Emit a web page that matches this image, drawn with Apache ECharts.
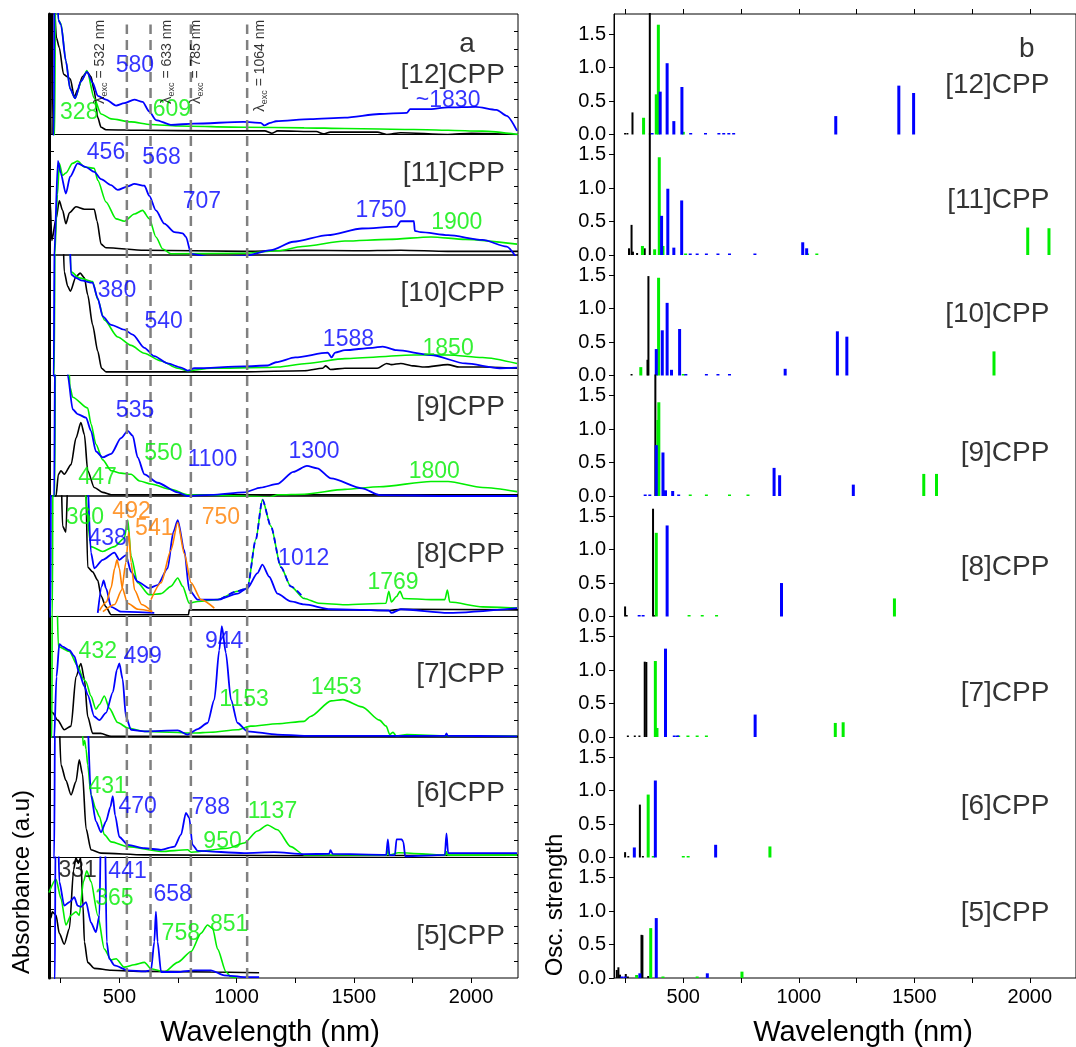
<!DOCTYPE html>
<html lang="en">
<head>
    <meta charset="UTF-8">
    <title>[n]CPP absorbance and oscillator strengths</title>
    <script src="https://cdn.jsdelivr.net/npm/echarts@6/dist/echarts.min.js"></script>
    <style>html, body { margin: 0; padding: 0; background: #fff; }</style>
</head>
<body>
    <div id="main" style="width: 1076px; height: 1047px;"></div>
    <script>
        // panel names, top to bottom
        const panelNames = ['[12]CPP', '[11]CPP', '[10]CPP', '[9]CPP', '[8]CPP', '[7]CPP', '[6]CPP', '[5]CPP']
        // excitation lines (drawn position) and their printed wavelength
        const excLines = [532, 633, 805, 1045]
        const excNames = ['532', '633', '785', '1064']
        const tickNm = [250, 500, 750, 1000, 1250, 1500, 1750, 2000]
        const labelNm = [500, 1000, 1500, 2000]
        const oscTicks = [0, 0.5, 1, 1.5]
        const oscMinor = [0.25, 0.75, 1.25, 1.75]

        // ---- absorbance spectra (a.u., 0 = panel bottom, 1 = panel top) ----
        const abs12Black = [[200,1.3],[211,1.3],[213,0.0],[217,1.3],[232,0.8],[244,0.72],[262,0.5],[277,0.48],[291,0.46],[308,0.31],[322,0.37],[343,0.48],[362,0.52],[379,0.48],[393,0.36],[408,0.14],[422,0.06],[443,0.04],[600,0.035],[900,0.03],[1120,0.03],[1150,0.01],[1175,0.03],[1340,0.025],[1370,0.005],[1400,0.02],[1600,0.02],[1640,0.0],[1700,0.015],[1900,0.0],[2000,0.01],[2200,0.0]]
        const abs12Green = [[200,-0.02],[224,-0.02],[228,1.3],[234,1.3],[240,0.95],[251,0.92],[272,0.61],[290,0.38],[311,0.30],[340,0.45],[362,0.53],[393,0.30],[422,0.17],[465,0.13],[550,0.105],[634,0.083],[749,0.07],[1032,0.06],[1288,0.055],[1462,0.05],[1755,0.042],[2049,0.028],[2200,0.0]]
        const abs12Blue = [[200,-0.02],[220,-0.02],[224,1.3],[234,1.3],[240,0.95],[251,0.91],[272,0.61],[290,0.38],[311,0.30],[336,0.44],[362,0.52],[386,0.43],[408,0.32],[443,0.29],[486,0.24],[521,0.26],[564,0.29],[599,0.27],[628,0.19],[656,0.12],[720,0.08],[818,0.09],[1030,0.105],[1103,0.097],[1118,0.075],[1144,0.097],[1168,0.11],[1315,0.127],[1462,0.14],[1609,0.17],[1726,0.18],[1740,0.21],[1814,0.21],[1902,0.225],[2020,0.23],[2108,0.205],[2152,0.155],[2196,0.03]]

        const abs11Black = [[200,0.0],[205,0.45],[212,0.12],[230,0.3],[244,0.45],[258,0.37],[272,0.26],[287,0.35],[315,0.40],[351,0.38],[393,0.38],[405,0.28],[422,0.09],[443,0.06],[606,0.04],[1032,0.03],[1288,0.04],[1500,0.035],[1700,0.04],[1900,0.03],[2200,0.03]]
        const abs11Green = [[200,-0.02],[224,-0.02],[236,0.5],[244,0.76],[258,0.66],[272,0.68],[300,0.76],[322,0.78],[351,0.73],[393,0.72],[408,0.62],[443,0.44],[486,0.30],[521,0.28],[564,0.34],[599,0.37],[628,0.30],[656,0.15],[685,0.05],[720,0.01],[1032,0.015],[1176,0.035],[1280,0.07],[1462,0.116],[1650,0.13],[1829,0.15],[1976,0.13],[2196,0.09]]
        const abs11Blue = [[200,-0.02],[222,-0.02],[238,0.78],[250,0.68],[272,0.51],[290,0.65],[322,0.76],[358,0.73],[393,0.69],[422,0.63],[465,0.58],[493,0.54],[536,0.57],[564,0.59],[607,0.575],[628,0.49],[656,0.37],[692,0.26],[735,0.19],[770,0.18],[784,0.15],[806,0.01],[892,-0.02],[1032,-0.01],[1146,0.04],[1242,0.11],[1389,0.165],[1535,0.22],[1682,0.235],[1700,0.28],[1756,0.28],[1760,0.2],[1785,0.19],[1902,0.165],[2049,0.125],[2152,0.07],[2196,-0.03]]

        const abs10Black = [[200,1.3],[258,1.3],[265,0.86],[280,0.74],[291,0.70],[315,0.82],[333,0.85],[351,0.81],[365,0.67],[386,0.42],[408,0.20],[424,0.06],[443,0.03],[1032,0.03],[1288,0.04],[1367,0.06],[1380,0.08],[1400,0.05],[1462,0.06],[1600,0.06],[1640,0.1],[1660,0.09],[1700,0.1],[1756,0.08],[1800,0.07],[1900,0.09],[1950,0.07],[2049,0.07],[2196,0.06]]
        const abs10Green = [[200,-0.02],[222,-0.02],[226,1.3],[285,1.3],[294,0.86],[329,0.81],[386,0.78],[408,0.63],[436,0.46],[493,0.32],[550,0.25],[606,0.185],[678,0.12],[749,0.06],[791,0.04],[892,0.06],[1132,0.066],[1176,0.07],[1300,0.1],[1462,0.14],[1756,0.17],[1902,0.17],[2049,0.15],[2196,0.10]]
        const abs10Blue = [[200,-0.02],[220,-0.02],[224,1.3],[285,1.3],[294,0.84],[315,0.81],[336,0.79],[386,0.77],[408,0.64],[429,0.49],[465,0.42],[521,0.38],[557,0.34],[607,0.23],[649,0.16],[706,0.10],[763,0.066],[791,0.04],[820,0.06],[1032,0.075],[1132,0.083],[1168,0.11],[1250,0.15],[1389,0.19],[1405,0.15],[1420,0.19],[1462,0.21],[1579,0.23],[1623,0.24],[1682,0.21],[1829,0.17],[1976,0.10],[2122,0.06],[2196,0.065]]

        const abs9Black = [[200,0.0],[230,0.0],[240,0.18],[251,0.21],[265,0.18],[294,0.26],[315,0.48],[336,0.61],[351,0.51],[365,0.21],[393,0.07],[429,0.03],[465,0.01],[1000,0.01],[1600,0.01],[2200,0.01]]
        const abs9Green = [[200,-0.02],[224,-0.02],[228,1.3],[280,1.3],[290,0.9],[301,0.82],[365,0.73],[379,0.60],[400,0.43],[429,0.30],[465,0.21],[507,0.19],[550,0.18],[586,0.125],[635,0.10],[720,0.055],[791,0.01],[1032,0.0],[1140,-0.01],[1176,0.01],[1288,0.015],[1462,0.055],[1609,0.077],[1829,0.12],[1902,0.12],[2049,0.07],[2196,0.036]]
        const abs9Blue = [[200,-0.02],[222,-0.02],[226,1.3],[275,1.3],[280,1.0],[301,0.72],[322,0.68],[358,0.65],[379,0.54],[400,0.37],[429,0.32],[465,0.35],[507,0.48],[536,0.54],[557,0.50],[578,0.32],[607,0.18],[663,0.11],[749,0.03],[791,0.0],[892,0.01],[1032,0.03],[1103,0.07],[1174,0.10],[1242,0.2],[1300,0.25],[1344,0.23],[1403,0.146],[1535,0.064],[1609,0.008],[1902,0.0],[2196,0.0]]

        const abs8Black = [[200,1.3],[250,1.3],[258,0.75],[272,0.70],[283,1.3],[355,1.3],[365,0.41],[386,0.37],[408,0.30],[422,0.17],[443,0.08],[465,0.015],[607,0.015],[795,0.015],[798,0.055],[1288,0.055],[1500,0.055],[1650,0.05],[1700,0.06],[2200,0.055]]
        const abs8Green = [[200,-0.02],[214,-0.02],[217,1.3],[340,1.3],[379,0.58],[429,0.54],[479,0.58],[521,0.65],[536,0.80],[550,0.50],[578,0.28],[627,0.18],[678,0.19],[720,0.25],[749,0.32],[770,0.25],[798,0.11],[834,0.125],[919,0.14],[1004,0.21],[1046,0.235],[1082,0.64],[1110,0.97],[1146,0.75],[1189,0.41],[1231,0.25],[1288,0.15],[1350,0.11],[1462,0.097],[1637,0.11],[1649,0.21],[1660,0.12],[1682,0.166],[1697,0.21],[1711,0.15],[1829,0.14],[1888,0.14],[1899,0.22],[1909,0.12],[2049,0.08],[2196,0.07]]
        const abs8Blue = [[200,-0.02],[206,-0.02],[209,1.3],[360,1.3],[379,0.53],[393,0.40],[429,0.47],[479,0.53],[500,0.47],[528,0.51],[550,0.37],[578,0.29],[627,0.235],[663,0.26],[706,0.40],[730,0.7],[749,0.80],[777,0.55],[798,0.22],[834,0.14],[919,0.14],[1004,0.19],[1046,0.235],[1089,0.36],[1110,0.43],[1139,0.33],[1174,0.19],[1231,0.125],[1288,0.10],[1400,0.06],[1650,0.05],[1660,0.03],[1700,0.06],[1902,0.03],[2196,0.07]]
        const abs8BlueLow = [[408,0.03],[425,0.25],[433,0.30],[443,0.235],[465,0.08],[507,0.04],[649,0.03]]
        const abs8BlueDash = [[930,0.14],[1004,0.21],[1046,0.235],[1082,0.64],[1110,0.97],[1146,0.75],[1189,0.41],[1231,0.25],[1288,0.15]]
        const abs8Orange1 = [[415,0.05],[445,0.12],[465,0.24],[480,0.40],[490,0.47],[500,0.40],[512,0.24],[535,0.11],[580,0.06],[640,0.04]]
        const abs8Orange2 = [[430,0.04],[480,0.1],[510,0.22],[528,0.45],[540,0.70],[550,0.45],[565,0.22],[595,0.1],[640,0.04]]
        const abs8Orange3 = [[635,0.14],[678,0.28],[720,0.55],[749,0.78],[777,0.52],[806,0.28],[848,0.14],[905,0.07]]

        const abs7Black = [[200,0.25],[216,0.2],[237,0.14],[265,0.06],[294,0.09],[315,0.50],[336,0.61],[351,0.48],[365,0.17],[386,0.03],[420,0.03],[465,0.005],[1200,0.005],[2200,0.005]]
        const abs7Green = [[200,-0.02],[212,-0.02],[214,1.3],[232,1.3],[240,0.75],[287,0.71],[322,0.59],[347,0.48],[357,0.46],[379,0.34],[400,0.23],[415,0.27],[436,0.34],[457,0.24],[493,0.12],[536,0.075],[607,0.047],[820,0.033],[890,0.04],[1004,0.06],[1060,0.09],[1174,0.11],[1288,0.13],[1315,0.17],[1403,0.30],[1453,0.31],[1535,0.25],[1609,0.14],[1638,0.09],[1653,0.02],[1667,0.04],[1680,0.01],[1726,0.02],[1902,0.01],[2196,0.005]]
        const abs7Blue = [[200,-0.02],[222,-0.02],[232,0.5],[244,0.77],[258,0.75],[287,0.72],[308,0.67],[329,0.53],[351,0.42],[365,0.35],[393,0.17],[415,0.14],[443,0.20],[472,0.37],[490,0.56],[500,0.61],[514,0.48],[528,0.17],[550,0.06],[607,0.047],[749,0.055],[791,0.02],[834,0.066],[876,0.116],[905,0.31],[926,0.72],[937,0.92],[954,0.70],[976,0.31],[1004,0.116],[1046,0.047],[1174,0.02],[1288,0.01],[1890,0.01],[1895,0.03],[1900,0.01],[2196,0.005]]

        const abs6Black = [[200,1.3],[240,1.3],[251,0.77],[272,0.64],[294,0.52],[315,0.63],[329,0.81],[343,0.69],[358,0.24],[379,0.064],[422,0.036],[607,0.022],[1288,0.015],[2200,0.02]]
        const abs6Green = [[200,1.3],[340,1.3],[345,0.93],[352,0.97],[358,0.9],[365,0.77],[379,0.52],[400,0.40],[415,0.34],[436,0.19],[465,0.13],[536,0.09],[678,0.05],[791,0.064],[806,0.044],[962,0.077],[1032,0.12],[1089,0.22],[1132,0.27],[1174,0.23],[1231,0.09],[1288,0.022],[1640,0.02],[1645,0.065],[1650,0.02],[1690,0.04],[1890,0.02],[1895,0.05],[1900,0.02],[2196,0.02]]
        const abs6Blue = [[200,-0.02],[222,-0.02],[226,1.3],[360,1.3],[379,0.52],[400,0.30],[422,0.21],[443,0.30],[462,0.42],[472,0.51],[482,0.35],[500,0.17],[536,0.105],[607,0.077],[678,0.064],[735,0.09],[763,0.19],[784,0.37],[798,0.33],[812,0.105],[834,0.055],[1032,0.036],[1160,0.044],[1288,0.028],[1395,0.03],[1400,0.06],[1410,0.03],[1638,0.022],[1645,0.15],[1652,0.02],[1675,0.02],[1682,0.15],[1704,0.15],[1711,0.13],[1719,0.01],[1888,0.022],[1895,0.2],[1902,0.036],[2196,0.036]]

        const abs5Black = [[200,0.46],[204,0.55],[208,0.5],[214,0.55],[230,0.52],[244,0.37],[265,0.28],[287,0.41],[305,0.9],[315,1.0],[325,0.95],[335,1.0],[345,0.6],[351,0.30],[365,0.13],[393,0.08],[465,0.064],[607,0.055],[890,0.05],[1096,0.044]]
        const abs5Green = [[200,0.71],[230,0.82],[251,0.66],[272,0.44],[294,0.52],[315,0.55],[329,0.52],[347,0.80],[361,0.89],[379,0.80],[408,0.52],[436,0.24],[465,0.15],[486,0.16],[521,0.09],[564,0.11],[607,0.13],[635,0.077],[692,0.05],[749,0.13],[806,0.22],[848,0.37],[876,0.44],[898,0.41],[919,0.24],[955,0.05],[976,0.008],[1000,0.0]]
        const abs5Blue = [[200,-0.02],[225,-0.02],[228,1.3],[238,1.3],[244,0.80],[265,0.60],[287,0.63],[308,0.67],[322,0.60],[336,0.59],[358,0.63],[379,0.46],[400,0.38],[415,0.52],[422,1.3],[438,1.3],[446,0.30],[457,0.16],[479,0.105],[536,0.064],[607,0.055],[635,0.064],[649,0.30],[656,0.55],[663,0.30],[678,0.05],[749,0.05],[820,0.064],[890,0.064],[947,0.022],[1032,0.008],[1096,0.008]]

        // ---- calculated oscillator strengths: [wavelength nm, f] ----
        const osc12Black = [[248,0.01],[258,0.02],[280,0.33],[355,1.9]]
        const osc12Green = [[328,0.25],[383,0.6],[392,1.64],[500,0.04]]
        const osc12Blue = [[365,0.02],[400,0.64],[430,1.065],[459,0.2],[494,0.71],[532,0.01],[596,0.01],[654,0.01],[675,0.01],[697,0.01],[718,0.01],[1160,0.275],[1433,0.73],[1497,0.62]]
        const osc11Black = [[265,0.1],[276,0.45],[282,0.05],[300,0.03],[333,0.1],[355,1.9]]
        const osc11Green = [[323,0.135],[376,0.085],[396,1.46],[412,0.135],[510,0.02],[1038,0.02],[1078,0.01],[1991,0.41],[2083,0.40]]
        const osc11Blue = [[406,0.585],[433,0.99],[459,0.11],[493,0.815],[530,0.02],[560,0.01],[600,0.01],[650,0.01],[700,0.01],[810,0.01],[1017,0.19],[1034,0.1]]
        const osc10Black = [[276,0.01],[345,0.235],[349,1.485]]
        const osc10Green = [[316,0.125],[393,1.46],[500,0.01],[1845,0.36]]
        const osc10Blue = [[383,0.395],[409,0.675],[430,1.085],[449,0.085],[484,0.695],[511,0.02],[600,0.01],[650,0.01],[700,0.01],[941,0.1],[1167,0.66],[1208,0.58]]
        const osc9Black = [[379,1.9]]
        const osc9Green = [[390,1.135],[394,1.40],[530,0.01],[600,0.01],[700,0.01],[780,0.01],[1541,0.33],[1596,0.33]]
        const osc9Blue = [[335,0.01],[355,0.01],[383,0.76],[412,0.65],[423,0.085],[454,0.075],[480,0.01],[893,0.42],[917,0.31],[1236,0.17]]
        const osc8Black = [[248,0.15],[255,0.01],[369,1.61],[375,0.02]]
        const osc8Green = [[383,1.25],[525,0.02],[582,0.01],[644,0.01],[1414,0.27]]
        const osc8Blue = [[309,0.01],[326,0.01],[430,1.36],[925,0.5]]
        const osc7Black = [[260,0.01],[290,0.02],[310,0.01],[333,1.125],[340,1.12]]
        const osc7Green = [[379,1.135],[386,0.135],[480,0.01],[520,0.01],[560,0.01],[600,0.01],[1158,0.21],[1192,0.22]]
        const osc7Blue = [[423,1.32],[461,0.01],[475,0.01],[811,0.335]]
        const osc6Black = [[248,0.08],[262,0.02],[312,0.79],[325,0.01]]
        const osc6Green = [[348,0.94],[370,0.01],[500,0.02],[521,0.02],[875,0.165]]
        const osc6Blue = [[288,0.15],[379,1.15],[640,0.19]]
        const osc5Black = [[212,0.12],[219,0.16],[226,0.05],[251,0.06],[260,0.02],[319,0.645],[323,0.64],[348,0.03]]
        const osc5Green = [[298,0.045],[359,0.745],[412,0.01],[560,0.005],[754,0.095]]
        const osc5Blue = [[234,0.02],[248,0.02],[312,0.07],[383,0.895],[604,0.07]]

        // ---- peak annotations: [nm, height, text, colour key] ----
        const labels12 = [[566,0.57,'580','b'],[329,0.18,'328','g'],[724,0.21,'609','g'],[1902,0.28,'~1830','b']]
        const labels11 = [[443,0.85,'456','b'],[680,0.81,'568','b'],[852,0.44,'707','b'],[1616,0.37,'1750','b'],[1939,0.27,'1900','g']]
        const labels10 = [[490,0.70,'380','b'],[689,0.45,'540','b'],[1477,0.30,'1588','b'],[1902,0.22,'1850','g']]
        const labels9 = [[567,0.705,'535','b'],[688,0.35,'550','g'],[407,0.15,'447','g'],[897,0.30,'1100','b'],[1330,0.37,'1300','b'],[1843,0.20,'1800','g']]
        const labels8 = [[353,0.82,'360','g'],[552,0.87,'492','o'],[450,0.65,'438','b'],[649,0.73,'541','o'],[933,0.82,'750','o'],[1286,0.48,'1012','b'],[1667,0.28,'1769','g']]
        const labels7 = [[408,0.71,'432','g'],[599,0.67,'499','b'],[947,0.79,'944','b'],[1032,0.31,'1153','g'],[1425,0.41,'1453','g']]
        const labels6 = [[450,0.59,'431','g'],[578,0.42,'470','b'],[890,0.41,'788','b'],[940,0.13,'950','g'],[1153,0.38,'1137','g']]
        const labels5 = [[322,0.89,'331','k'],[535,0.88,'441','b'],[479,0.66,'365','g'],[727,0.69,'658','b'],[762,0.37,'758','g'],[968,0.44,'851','g']]
        const absNameHeight = [0.49, 0.68, 0.68, 0.74, 0.52, 0.52, 0.53, 0.35]
        const oscNameHeight = [0.74, 0.82, 0.92, 0.64, 0.74, 0.65, 0.76, 0.96]

        const FONT = '"Liberation Sans", Arial, sans-serif'
        const COLORS = { k: '#000000', b: '#0000ff', g: '#00ee00', o: '#ff8000' }
        const PLAIN = { textBorderWidth: 0, textBorderColor: 'transparent', textShadowBlur: 0 }

        const absPanels = [
            [[abs12Black, 'k'], [abs12Green, 'g'], [abs12Blue, 'b']],
            [[abs11Black, 'k'], [abs11Green, 'g'], [abs11Blue, 'b']],
            [[abs10Black, 'k'], [abs10Green, 'g'], [abs10Blue, 'b']],
            [[abs9Black, 'k'], [abs9Green, 'g'], [abs9Blue, 'b']],
            [[abs8Black, 'k'], [abs8Green, 'g'], [abs8Blue, 'b'], [abs8BlueLow, 'b'], [abs8BlueDash, 'b', 'dash'],
             [abs8Orange1, 'o'], [abs8Orange2, 'o'], [abs8Orange3, 'o']],
            [[abs7Black, 'k'], [abs7Green, 'g'], [abs7Blue, 'b']],
            [[abs6Black, 'k'], [abs6Green, 'g'], [abs6Blue, 'b']],
            [[abs5Black, 'k'], [abs5Green, 'g'], [abs5Blue, 'b']]
        ]
        const oscPanels = [
            [osc12Black, osc12Green, osc12Blue], [osc11Black, osc11Green, osc11Blue],
            [osc10Black, osc10Green, osc10Blue], [osc9Black, osc9Green, osc9Blue],
            [osc8Black, osc8Green, osc8Blue], [osc7Black, osc7Green, osc7Blue],
            [osc6Black, osc6Green, osc6Blue], [osc5Black, osc5Green, osc5Blue]
        ]
        const absLabels = [labels12, labels11, labels10, labels9, labels8, labels7, labels6, labels5]

        // layout
        const L_LEFT = 49, L_WIDTH = 469, R_LEFT = 614, R_WIDTH = 468
        const TOP = 14, PANEL_H = 120.5
        const OVERLAY = 16, FRAME = 17

        const grids = [], xAxes = [], yAxes = [], series = []
        const extraY = []
        const innerTicks = [0.14, 0.29, 0.43, 0.57, 0.71, 0.86]

        // left column panels (grid 0..7)
        for (let i = 0; i < 8; i++) {
            grids.push({ left: L_LEFT, width: L_WIDTH, top: TOP + PANEL_H * i, height: PANEL_H,
                show: true, borderColor: '#000', borderWidth: 1 })
            xAxes.push({
                gridIndex: i, type: 'value', min: 200, max: 2200, show: i === 7,
                axisLine: { show: false }, splitLine: { show: false },
                axisTick: { show: true, customValues: tickNm, length: 5, lineStyle: { color: '#000' } },
                axisLabel: { customValues: labelNm, formatter: v => String(v), fontSize: 20, color: '#000', margin: 9, fontFamily: FONT }
            })
            yAxes.push({
                gridIndex: i, type: 'value', min: 0, max: 1,
                axisLine: { show: true, lineStyle: { color: '#000', width: 3 } },
                axisTick: { show: true, inside: true, length: 5, customValues: innerTicks, lineStyle: { color: '#000' } },
                axisLabel: { show: false }, splitLine: { show: false }
            })
            extraY.push({
                gridIndex: i, type: 'value', min: 0, max: 1, position: 'right',
                axisLine: { show: false },
                axisTick: { show: true, inside: true, length: 4, customValues: innerTicks, lineStyle: { color: '#000' } },
                axisLabel: { show: false }, splitLine: { show: false }
            })
        }
        // right column panels (grid 8..15)
        for (let j = 0; j < 8; j++) {
            const g = 8 + j
            grids.push({ left: R_LEFT, width: R_WIDTH, top: TOP + PANEL_H * j, height: PANEL_H, show: false })
            xAxes.push({ gridIndex: g, type: 'value', min: 200, max: 2200, show: false })
            yAxes.push({
                gridIndex: g, type: 'value', min: 0, max: 1.8,
                axisLine: { show: true, lineStyle: { color: '#000', width: 1 } },
                axisTick: { show: true, length: 5, customValues: oscTicks, lineStyle: { color: '#000' } },
                axisLabel: { customValues: oscTicks, formatter: v => v.toFixed(1), fontSize: 20, color: '#000', margin: 8, fontFamily: FONT },
                splitLine: { show: false }
            })
            extraY.push({
                gridIndex: g, type: 'value', min: 0, max: 1.8,
                axisLine: { show: false },
                axisTick: { show: true, length: 3, customValues: oscMinor, lineStyle: { color: '#000' } },
                axisLabel: { show: false }, splitLine: { show: false }
            })
        }
        // overlay for the dashed excitation lines (grid 16)
        grids.push({ left: L_LEFT, width: L_WIDTH, top: TOP, height: PANEL_H * 8, show: false })
        xAxes.push({ gridIndex: OVERLAY, type: 'value', min: 200, max: 2200, show: false })
        yAxes.push({ gridIndex: OVERLAY, type: 'value', min: 0, max: 1, show: false })
        // frame of the right column (grid 17)
        grids.push({ left: R_LEFT, width: R_WIDTH, top: TOP, height: PANEL_H * 8, show: true, borderColor: '#000', borderWidth: 1 })
        xAxes.push({
            gridIndex: FRAME, type: 'value', min: 200, max: 2200,
            axisLine: { show: false }, splitLine: { show: false },
            axisTick: { show: true, customValues: tickNm, length: 5, lineStyle: { color: '#000' } },
            axisLabel: { customValues: labelNm, formatter: v => String(v), fontSize: 20, color: '#000', margin: 9, fontFamily: FONT }
        })
        yAxes.push({ gridIndex: FRAME, type: 'value', min: 0, max: 1, show: false })
        xAxes.push({
            gridIndex: FRAME, type: 'value', min: 200, max: 2200, position: 'top',
            axisLine: { show: false }, splitLine: { show: false },
            axisTick: { show: true, customValues: tickNm, length: 5, lineStyle: { color: '#000' } },
            axisLabel: { show: false }
        })

        // absorbance curves
        absPanels.forEach((curves, i) => {
            curves.forEach(([data, key, style]) => {
                series.push({
                    type: 'line', xAxisIndex: i, yAxisIndex: i, data: data,
                    symbol: 'none', smooth: 0.25, smoothMonotone: 'x', silent: true,
                    lineStyle: { color: COLORS[key], width: key === 'b' ? 1.8 : 1.6, type: style === 'dash' ? [6, 4] : 'solid' },
                    itemStyle: { color: COLORS[key] }, z: style === 'dash' ? 4 : 3
                })
            })
            series.push({
                type: 'scatter', xAxisIndex: i, yAxisIndex: i, symbolSize: 0, silent: true, z: 6,
                itemStyle: { color: 'transparent' },
                data: absLabels[i].map(([x, y, text, key]) => ({
                    value: [x, y],
                    label: { formatter: text, color: COLORS[key] }
                })).concat([{
                    value: [2144, absNameHeight[i]],
                    label: { formatter: panelNames[i], color: '#000', fontSize: 28, align: 'right' }
                }]),
                label: Object.assign({ show: true, position: 'inside', fontSize: 23, fontFamily: FONT }, PLAIN)
            })
        })
        series.push({
            type: 'scatter', xAxisIndex: 0, yAxisIndex: 0, symbolSize: 0, silent: true, z: 6,
            itemStyle: { color: 'transparent' },
            data: [{ value: [1983, 0.75] }],
            label: Object.assign({ show: true, position: 'inside', formatter: 'a', fontSize: 28, color: '#000', fontFamily: FONT }, PLAIN)
        })

        // excitation lines and their labels
        excLines.forEach(nm => {
            series.push({
                type: 'line', xAxisIndex: OVERLAY, yAxisIndex: OVERLAY, symbol: 'none', silent: true, z: 5,
                data: [[nm, 0], [nm, 0.989]],
                lineStyle: { color: '#808080', width: 2.5, type: [10, 6] }
            })
        })
        const excLabelNm = [419, 702, 826, 1099]
        series.push({
            type: 'scatter', xAxisIndex: OVERLAY, yAxisIndex: OVERLAY, symbolSize: 0, silent: true, z: 7,
            itemStyle: { color: 'transparent' },
            data: excNames.map((name, k) => ({
                value: [excLabelNm[k], 0.994],
                label: { formatter: '{l|λ}{s|exc}{n| = ' + name + ' nm}' }
            })),
            label: Object.assign({
                show: true, position: 'inside', rotate: 90, align: 'right', verticalAlign: 'middle',
                fontFamily: FONT, color: '#000',
                rich: {
                    l: { fontSize: 15, fontFamily: FONT, color: '#000' },
                    s: { fontSize: 9, fontFamily: FONT, color: '#000', padding: [9, 0, 0, 0] },
                    n: { fontSize: 14, fontFamily: FONT, color: '#000' }
                }
            }, PLAIN)
        })

        // oscillator strength sticks
        function stickRenderer (width) {
            return function (params, api) {
                const base = api.coord([api.value(0), 0])
                const top = api.coord([api.value(0), api.value(1)])
                const h = Math.max(base[1] - top[1], 1.5)
                const rect = echarts.graphic.clipRectByRect(
                    { x: base[0] - width / 2, y: base[1] - h, width: width, height: h },
                    { x: params.coordSys.x, y: params.coordSys.y - 1, width: params.coordSys.width, height: params.coordSys.height + 2 }
                )
                return rect && { type: 'rect', shape: rect, style: { fill: api.visual('color') } }
            }
        }
        const stickKeys = ['k', 'g', 'b']
        const stickWidths = [2, 3, 3]
        oscPanels.forEach((sets, j) => {
            const g = 8 + j
            sets.forEach((data, c) => {
                series.push({
                    type: 'custom', xAxisIndex: g, yAxisIndex: g, data: data, silent: true,
                    encode: { x: 0, y: 1 }, itemStyle: { color: COLORS[stickKeys[c]] },
                    renderItem: stickRenderer(stickWidths[c]), z: 3
                })
            })
            series.push({
                type: 'scatter', xAxisIndex: g, yAxisIndex: g, symbolSize: 0, silent: true, z: 6,
                itemStyle: { color: 'transparent' },
                data: [{ value: [2085, oscNameHeight[j]] }],
                label: Object.assign({ show: true, position: 'inside', align: 'right', formatter: panelNames[j], fontSize: 28, color: '#000', fontFamily: FONT }, PLAIN)
            })
        })
        series.push({
            type: 'scatter', xAxisIndex: 8, yAxisIndex: 8, symbolSize: 0, silent: true, z: 6,
            itemStyle: { color: 'transparent' },
            data: [{ value: [1987, 1.27] }],
            label: Object.assign({ show: true, position: 'inside', formatter: 'b', fontSize: 28, color: '#000', fontFamily: FONT }, PLAIN)
        })

        const option = {
            animation: false,
            backgroundColor: '#fff',
            grid: grids,
            xAxis: xAxes,
            yAxis: yAxes.concat(extraY),
            series: series,
            graphic: [
                { type: 'text', x: 270, y: 1033, style: { text: 'Wavelength (nm)', fontSize: 29, fontFamily: FONT, fill: '#000', align: 'center', verticalAlign: 'middle' } },
                { type: 'text', x: 863, y: 1033, style: { text: 'Wavelength (nm)', fontSize: 29, fontFamily: FONT, fill: '#000', align: 'center', verticalAlign: 'middle' } },
                { type: 'text', x: 22, y: 882, rotation: Math.PI / 2, style: { text: 'Absorbance (a.u)', fontSize: 24, fontFamily: FONT, fill: '#000', align: 'center', verticalAlign: 'middle' } },
                { type: 'text', x: 555, y: 905, rotation: Math.PI / 2, style: { text: 'Osc. strength', fontSize: 24, fontFamily: FONT, fill: '#000', align: 'center', verticalAlign: 'middle' } }
            ]
        }

        const chart = echarts.init(document.getElementById('main'))
        chart.setOption(option)
    </script>
</body>
</html>
